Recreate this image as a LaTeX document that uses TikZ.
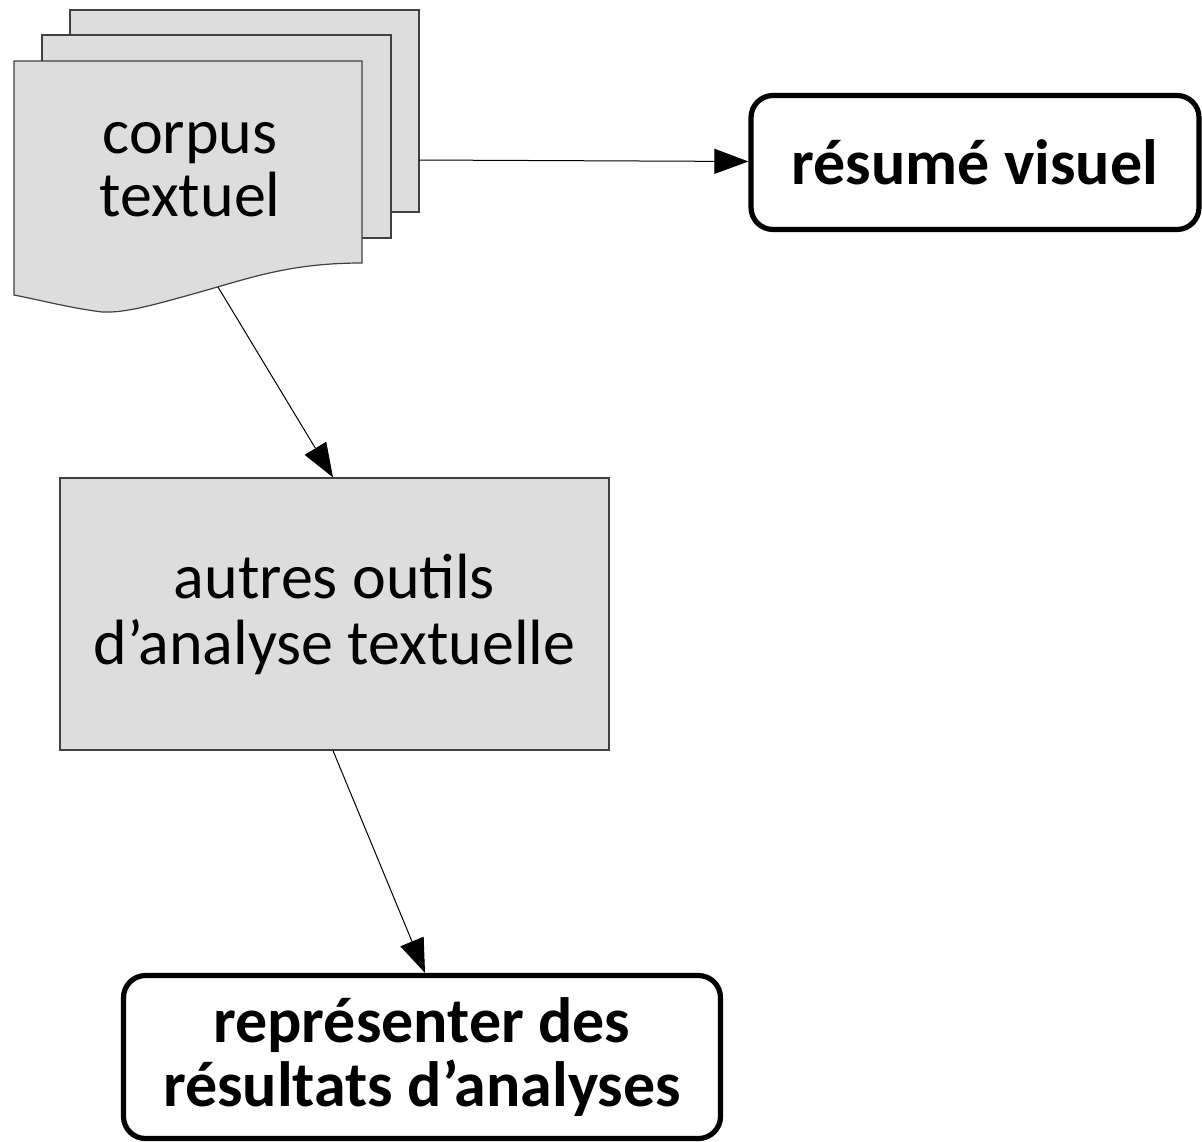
\documentclass[tikz,border=0pt]{standalone}
\usepackage{fontspec}
\setmainfont{Carlito}
\usetikzlibrary{arrows.meta,positioning}
\definecolor{gris}{RGB}{221,221,221}
\tikzset{
  fleche/.style={draw=black,line width=0.5pt,-{Triangle[length=17pt,width=12.5pt]}},
  page/.style={fill=gris,draw=black!75,line width=0.6pt},
  sortie/.style={draw,line width=2.6pt,rounded corners=11pt,align=center,font=\fontsize{32}{32}\selectfont\bfseries},
  outil/.style={fill=gris,draw=black!75,line width=0.6pt,align=center,font=\fontsize{32}{33}\selectfont}
}
\begin{document}
\begin{tikzpicture}[x=0.5pt,y=-0.5pt]
          \useasboundingbox (0,0) rectangle (1202,1141);
          % les trois pages du corpus
          \draw[page] (70,10) rectangle (419,212);
          \draw[page] (42,35) rectangle (391,238);
          \draw[page] (14,61) -- (362,61) -- (362,263)
            .. controls (290,263) and (250,278) .. (200,292)
            .. controls (150,306) and (125,313) .. (102,312)
            .. controls (70,308) and (40,300) .. (14,295) -- cycle;
          \node[align=center,font=\fontsize{32}{31.5}\selectfont] (corpus) at (190,170) {corpus\\textuel};
          \coordinate (corpus-droite) at (419,160);
          \coordinate (corpus-bas) at (218,287);
          \node[sortie,minimum width=224pt,minimum height=67pt] (resume) at (975,162.5) {résumé visuel};
          \node[outil,minimum width=274.5pt,minimum height=136pt] (outils) at (334.5,614) {autres outils\\d’analyse textuelle};
          \node[sortie,minimum width=298.5pt,minimum height=81.5pt] (repr) at (422,1057) {représenter des\\résultats d’analyses};
          \draw[fleche] (corpus-droite) -- (resume);
          \draw[fleche] (corpus-bas) -- (outils.north -| 333,0);
          \draw[fleche] (outils.south -| 333,0) -- (repr.north -| 425,0);
        \end{tikzpicture}
\end{document}
